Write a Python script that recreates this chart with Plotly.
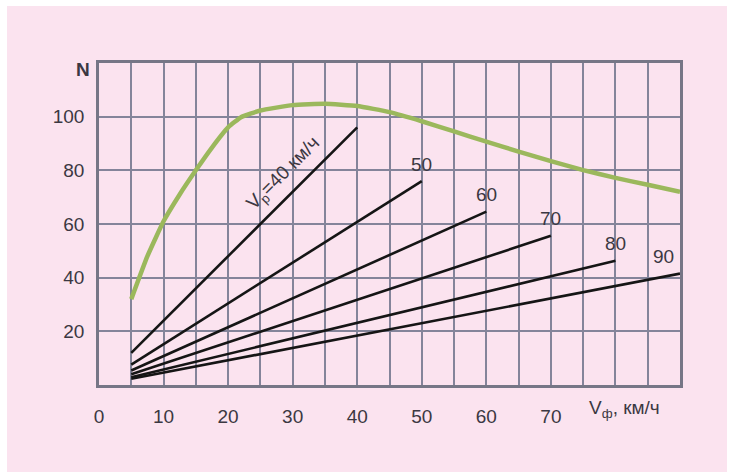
import plotly.graph_objects as go

# Power curve N(V_ф)
curve_x = [5, 7.5, 10, 12.5, 15, 17.5, 20, 22, 25, 30, 35, 40, 45, 50, 55, 60, 65, 70, 75, 80, 85, 90]
curve_y = [32, 48, 61, 71, 80, 88.5, 96, 99.8, 102.3, 104.3, 104.8, 104, 101.7, 98.3, 94.5, 90.7, 87, 83.4, 80.1, 77.2, 74.6, 72]

# Straight lines for each V_р: value at V_ф = 5 and at V_ф = V_р
speeds = [40, 50, 60, 70, 80, 90]
line_start_x = 5
line_start_y = [12, 7.6, 5.4, 4.0, 2.9, 2.3]
line_end_y = [96, 76, 64.6, 55.6, 46.3, 41.5]
line_labels = ["V<sub>р</sub>=40 км/ч", "50", "60", "70", "80", "90"]

x_ticks = [0, 10, 20, 30, 40, 50, 60, 70]
y_ticks = [20, 40, 60, 80, 100]

TEXT = "#3b3842"
FONT = "Liberation Sans, Arial, sans-serif"
GRID = "#84849a"

fig = go.Figure()

fig.add_trace(go.Scatter(
    x=curve_x, y=curve_y, mode="lines",
    line=dict(color="#9bb85c", width=4.5, shape="spline", smoothing=0.4),
    hoverinfo="skip", showlegend=False,
))

for v, y0, y1 in zip(speeds, line_start_y, line_end_y):
    fig.add_trace(go.Scatter(
        x=[line_start_x, v], y=[y0, y1], mode="lines",
        line=dict(color="#151515", width=2.6),
        hoverinfo="skip", showlegend=False,
    ))

annotations = []
# rotated label along the first line
annotations.append(dict(
    x=28.6, y=78.5, xref="x", yref="y", text=line_labels[0],
    textangle=-45, showarrow=False,
    font=dict(family=FONT, size=19, color=TEXT),
))
for v, y1, lab in zip(speeds[1:], line_end_y[1:], line_labels[1:]):
    annotations.append(dict(
        x=v, y=y1, xref="x", yref="y", text=lab, showarrow=False,
        yshift=17, xshift=-17 if v == 90 else 0,
        font=dict(family=FONT, size=19, color=TEXT),
    ))

# axis names
annotations.append(dict(
    x=75.6, y=0, xref="x", yref="y", text="V<sub>ф</sub>, км/ч",
    xanchor="left", yanchor="middle", yshift=-24, showarrow=False,
    font=dict(family=FONT, size=19, color=TEXT),
))
annotations.append(dict(
    x=0, y=120, xref="x", yref="y", text="<b>N</b>",
    xanchor="right", yanchor="middle", xshift=-7, yshift=-6, showarrow=False,
    font=dict(family=FONT, size=19, color=TEXT),
))

fig.update_layout(
    width=730, height=473,
    margin=dict(l=99, r=50, t=63, b=88),
    paper_bgcolor="white",
    plot_bgcolor="#dcdde9",
    annotations=annotations,
    shapes=[dict(type="rect", xref="paper", yref="paper",
                 x0=-92 / 581, x1=1 + 47 / 581, y0=-87 / 322, y1=1 + 57 / 322,
                 fillcolor="#fbe3ef", line=dict(width=0), layer="below")],
    xaxis=dict(
        range=[0, 90], tickvals=x_ticks,
        showgrid=True, gridcolor=GRID, gridwidth=1.5,
        minor=dict(dtick=5, tick0=0, showgrid=True, gridcolor=GRID, gridwidth=1.5, ticks=""),
        showline=True, linecolor="#767686", linewidth=2.5, mirror=True,
        ticks="", ticklabelstandoff=12, zeroline=False,
        tickfont=dict(family=FONT, size=19, color=TEXT),
    ),
    yaxis=dict(
        range=[0, 120], tickvals=y_ticks,
        showgrid=True, gridcolor=GRID, gridwidth=1.5,
        showline=True, linecolor="#767686", linewidth=2.5, mirror=True,
        ticks="", ticklabelstandoff=8, zeroline=False,
        tickfont=dict(family=FONT, size=19, color=TEXT),
    ),
)

fig.write_html("out.html")
